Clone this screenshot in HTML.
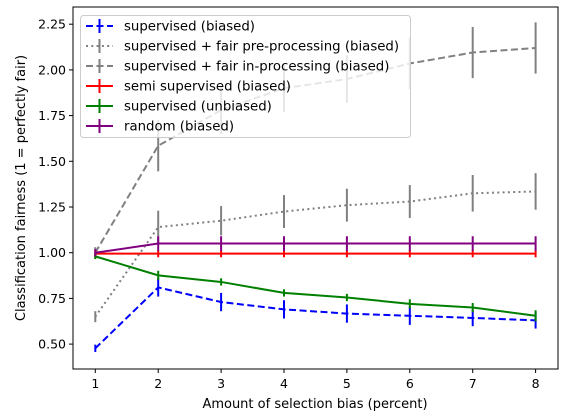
<!DOCTYPE html>
<html><head><meta charset="utf-8"><style>
body{margin:0;background:#fff}
svg{display:block;font-family:"DejaVu Sans","Liberation Sans",sans-serif}
</style></head><body>
<svg id="chart" width="576" height="420" viewBox="0 0 576 420">
<rect x="0" y="0" width="576" height="420" fill="#fff"/>
<g id="marks"></g>
<rect x="73" y="7" width="485" height="362" fill="none" stroke="#000" stroke-width="1"/>
<g id="axes"></g>
<text x="315" y="408" font-size="13" text-anchor="middle">Amount of selection bias (percent)</text>
<text transform="translate(25,188) rotate(-90)" font-size="13" text-anchor="middle">Classification fairness (1 = perfectly fair)</text>
<g id="legend"></g>
</svg>
<script>
const xs = [1,2,3,4,5,6,7,8];
const supBiased = [0.477,0.81,0.73,0.69,0.667,0.655,0.643,0.63];
const supBiasedErr = [0.02,0.05,0.05,0.05,0.05,0.05,0.045,0.045];
const preProc = [0.65,1.14,1.175,1.225,1.26,1.28,1.325,1.335];
const preProcErr = [0.03,0.09,0.08,0.09,0.09,0.09,0.1,0.1];
const inProc = [1.0,1.585,1.78,1.9,1.95,2.035,2.095,2.12];
const inProcErr = [0.03,0.14,0.13,0.13,0.13,0.14,0.14,0.14];
const semi = [0.995,0.995,0.995,0.995,0.995,0.995,0.995,0.995];
const semiErr = [0.02,0.02,0.02,0.02,0.02,0.02,0.02,0.02];
const supUnbiased = [0.98,0.876,0.84,0.78,0.755,0.72,0.70,0.655];
const supUnbiasedErr = [0.015,0.025,0.02,0.02,0.02,0.025,0.025,0.03];
const randomB = [1.0,1.05,1.05,1.05,1.05,1.05,1.05,1.05];
const randomErr = [0.02,0.04,0.04,0.04,0.04,0.04,0.04,0.04];
const yTicks = [0.5,0.75,1.0,1.25,1.5,1.75,2.0,2.25];
const yLabels = ["0.50","0.75","1.00","1.25","1.50","1.75","2.00","2.25"];
const legendLabels = ["supervised (biased)","supervised + fair pre-processing (biased)","supervised + fair in-processing (biased)","semi supervised (biased)","supervised (unbiased)","random (biased)"];

const X = v => 95.3 + (v-1)*62.9;
const Y = v => 252.7 - (v-1)*182.8;
const NS = "http://www.w3.org/2000/svg";
function mk(tag, attrs, parent){const e=document.createElementNS(NS,tag);for(const k in attrs)e.setAttribute(k,attrs[k]);parent.appendChild(e);return e;}

const series = [
 {name:"supervised-biased", v:supBiased, e:supBiasedErr, c:"#0000ff", dash:"7,3.5", w:2},
 {name:"fair-pre-processing", v:preProc, e:preProcErr, c:"#808080", dash:"2,3.3", w:2},
 {name:"fair-in-processing", v:inProc, e:inProcErr, c:"#808080", dash:"7,3.5", w:2},
 {name:"semi-supervised", v:semi, e:semiErr, c:"#ff0000", dash:"", w:2},
 {name:"supervised-unbiased", v:supUnbiased, e:supUnbiasedErr, c:"#008000", dash:"", w:2},
 {name:"random-biased", v:randomB, e:randomErr, c:"#800080", dash:"", w:2}
];
const marks = document.getElementById("marks");
series.forEach(s=>{
  const g = mk("g",{},marks);
  
  
  const pts = xs.map((x,i)=>X(x)+","+Y(s.v[i])).join(" ");
  const pl = mk("polyline",{points:pts,fill:"none",stroke:s.c,"stroke-width":s.w,"stroke-dasharray":s.dash},g);
  
  
  xs.forEach((x,i)=>{
    const eb = mk("line",{x1:X(x),x2:X(x),y1:Y(s.v[i]-s.e[i]),y2:Y(s.v[i]+s.e[i]),stroke:s.c,"stroke-width":2},g);
    
    
  });
});

const axes = document.getElementById("axes");
xs.forEach(x=>{
  mk("line",{x1:X(x),x2:X(x),y1:369,y2:373,stroke:"#000"},axes);
  const t = mk("text",{x:X(x),y:388,"font-size":12.5,"text-anchor":"middle"},axes);
  t.textContent = x;
  
  
});
yTicks.forEach((v,i)=>{
  mk("line",{x1:69,x2:73,y1:Y(v),y2:Y(v),stroke:"#000"},axes);
  const t = mk("text",{x:66,y:Y(v)+4.5,"font-size":12.5,"text-anchor":"end"},axes);
  t.textContent = yLabels[i];
  
  
});

const lg = document.getElementById("legend");
mk("rect",{x:80.5,y:15.5,width:330,height:122,rx:3,fill:"#fff","fill-opacity":0.8,stroke:"#ccc"},lg);
series.forEach((s,i)=>{
  const y = 26 + i*20;
  const en = mk("g",{},lg);
  
  
  mk("line",{x1:86,x2:113,y1:y,y2:y,stroke:s.c,"stroke-width":2,"stroke-dasharray":s.dash},en);
  mk("line",{x1:99.5,x2:99.5,y1:y-7,y2:y+7,stroke:s.c,"stroke-width":2},en);
  const t = mk("text",{x:124,y:y+4.5,"font-size":13.3},en);
  t.textContent = legendLabels[i];
});
</script>
</body></html>
